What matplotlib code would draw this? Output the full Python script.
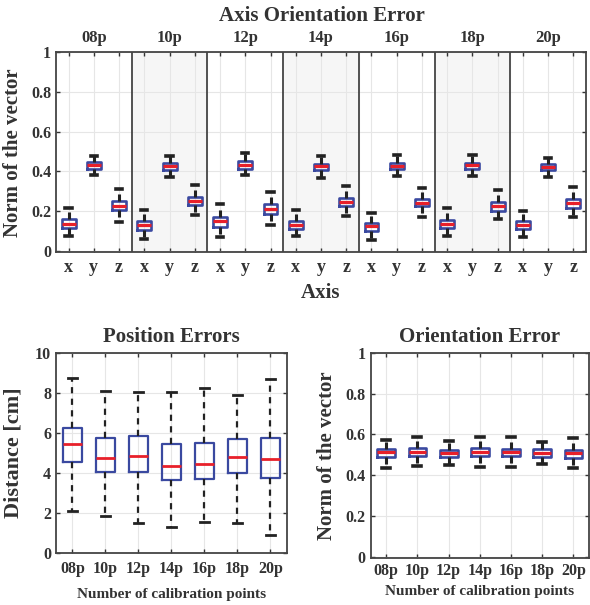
import matplotlib
matplotlib.use('Agg')
import matplotlib.pyplot as plt

plt.rcParams['font.family'] = ['Liberation Serif', 'DejaVu Serif']
plt.rcParams['font.weight'] = 'bold'

calib = ['08p', '10p', '12p', '14p', '16p', '18p', '20p']
axis_names = ['x', 'y', 'z']

# Axis orientation error, order: 08p x, y, z, 10p x, y, z, ...
ax_whishi = [0.217, 0.479, 0.311, 0.204, 0.478, 0.331, 0.237, 0.490, 0.296, 0.204, 0.478,
             0.326, 0.192, 0.484, 0.315, 0.214, 0.481, 0.305, 0.200, 0.466, 0.323]
ax_q3 = [0.158, 0.446, 0.251, 0.150, 0.441, 0.273, 0.170, 0.451, 0.234, 0.150, 0.437,
         0.266, 0.142, 0.442, 0.262, 0.155, 0.442, 0.246, 0.150, 0.437, 0.262]
ax_med = [0.137, 0.431, 0.227, 0.127, 0.426, 0.249, 0.148, 0.434, 0.211, 0.128, 0.426,
          0.246, 0.122, 0.428, 0.242, 0.133, 0.431, 0.224, 0.130, 0.422, 0.241]
ax_q1 = [0.113, 0.414, 0.204, 0.105, 0.406, 0.231, 0.120, 0.414, 0.185, 0.110, 0.407,
         0.226, 0.101, 0.414, 0.225, 0.113, 0.414, 0.202, 0.110, 0.407, 0.217]
ax_whislo = [0.073, 0.380, 0.143, 0.061, 0.370, 0.179, 0.071, 0.380, 0.127, 0.073, 0.365,
             0.174, 0.054, 0.378, 0.172, 0.073, 0.378, 0.158, 0.071, 0.372, 0.168]

# Position errors [cm]
pos_whishi = [8.78, 8.10, 8.05, 8.05, 8.28, 7.91, 8.73]
pos_q3 = [6.28, 5.78, 5.86, 5.44, 5.53, 5.69, 5.78]
pos_med = [5.48, 4.77, 4.87, 4.37, 4.44, 4.81, 4.72]
pos_q1 = [4.57, 4.07, 4.07, 3.64, 3.69, 3.99, 3.77]
pos_whislo = [2.12, 1.87, 1.52, 1.29, 1.55, 1.52, 0.88]

# Orientation error (norm)
ori_whishi = [0.574, 0.585, 0.569, 0.585, 0.585, 0.563, 0.580]
ori_q3 = [0.528, 0.535, 0.525, 0.532, 0.530, 0.527, 0.525]
ori_med = [0.512, 0.514, 0.506, 0.512, 0.512, 0.506, 0.506]
ori_q1 = [0.488, 0.496, 0.488, 0.493, 0.493, 0.488, 0.486]
ori_whislo = [0.436, 0.447, 0.450, 0.439, 0.439, 0.452, 0.437]

BLUE = '#3a49a0'
RED = '#e8202a'
TXT = '#333333'


def make_stats(lo, q1, med, q3, hi):
    return [dict(whislo=a, q1=b, med=c, q3=d, whishi=e, fliers=[])
            for a, b, c, d, e in zip(lo, q1, med, q3, hi)]


def draw_box(ax, stats, width, box_lw, whisk_lw, dash):
    ax.bxp(stats, positions=range(1, len(stats) + 1), widths=width, showfliers=False,
           boxprops=dict(color=BLUE, linewidth=box_lw),
           medianprops=dict(color=RED, linewidth=box_lw + 0.4),
           whiskerprops=dict(color='#222222', linewidth=whisk_lw, linestyle=dash),
           capprops=dict(color='#222222', linewidth=whisk_lw + 0.4),
           capwidths=width * 0.45, manage_ticks=False)


def style(ax):
    ax.tick_params(direction='in', top=True, right=True, colors=TXT, labelsize=11.5,
                   width=1, length=3)
    for s in ax.spines.values():
        s.set_color('#444444')
        s.set_linewidth(1.3)
    ax.grid(True, color='#e6e6e6', linewidth=0.8)
    ax.set_axisbelow(True)
    for lab in ax.get_xticklabels() + ax.get_yticklabels():
        lab.set_fontweight('bold')


fig = plt.figure(figsize=(5.9, 6.05), dpi=100)

# top: axis orientation error
ax1 = fig.add_axes([0.0949, 0.583, 0.8983, 0.3306])
for g in range(len(calib)):
    if g % 2 == 1:
        ax1.axvspan(g * 3 + 0.5, g * 3 + 3.5, color='#f6f6f6', zorder=0)
    if g > 0:
        ax1.axvline(g * 3 + 0.5, color='#444444', linewidth=1.3, zorder=1)
    ax1.text(g * 3 + 2, 1.03, calib[g], ha='center', va='bottom', fontsize=12,
             fontweight='bold', color=TXT, transform=ax1.transData, clip_on=False)
draw_box(ax1, make_stats(ax_whislo, ax_q1, ax_med, ax_q3, ax_whishi), 0.55, 1.9, 2.2,
         (0, (2.3, 1.8)))
ax1.set_xlim(0.5, 21.5)
ax1.set_ylim(-0.008, 1)
ax1.set_xticks(range(1, 22))
ax1.set_xticklabels(axis_names * len(calib))
ax1.set_yticks([0, 0.2, 0.4, 0.6, 0.8, 1])
ax1.set_yticklabels(['0', '0.2', '0.4', '0.6', '0.8', '1'])
style(ax1)
ax1.tick_params(axis='x', labelsize=13, pad=5)
ax1.set_ylabel('Norm of the vector', fontsize=15, fontweight='bold', color=TXT, labelpad=6)
ax1.set_xlabel('Axis', fontsize=15, fontweight='bold', color=TXT, labelpad=5)
fig.text(0.546, 0.974, 'Axis Orientation Error', ha='center', va='center', fontsize=15,
         fontweight='bold', color=TXT)

# bottom left: position errors
ax2 = fig.add_axes([0.0949, 0.086, 0.3915, 0.330])
draw_box(ax2, make_stats(pos_whislo, pos_q1, pos_med, pos_q3, pos_whishi), 0.55, 1.6, 1.6,
         (0, (2.8, 2.4)))
ax2.set_xlim(0.5, 7.5)
ax2.set_ylim(0, 10)
ax2.set_xticks(range(1, 8))
ax2.set_xticklabels(calib)
ax2.set_yticks([0, 2, 4, 6, 8, 10])
style(ax2)
ax2.tick_params(axis='x', pad=6)
ax2.set_ylabel('Distance [cm]', fontsize=16, fontweight='bold', color=TXT, labelpad=8)
ax2.set_xlabel('Number of calibration points', fontsize=11, fontweight='bold', color=TXT,
               labelpad=8)
ax2.set_title('Position Errors', fontsize=15, fontweight='bold', color=TXT, pad=8)

# bottom right: orientation error
ax3 = fig.add_axes([0.6283, 0.0782, 0.370, 0.3388])
draw_box(ax3, make_stats(ori_whislo, ori_q1, ori_med, ori_q3, ori_whishi), 0.57, 1.9, 2.2,
         (0, (2.3, 1.8)))
ax3.set_xlim(0.5, 7.5)
ax3.set_ylim(-0.005, 1)
ax3.set_xticks(range(1, 8))
ax3.set_xticklabels(calib)
ax3.set_yticks([0, 0.2, 0.4, 0.6, 0.8, 1])
ax3.set_yticklabels(['0', '0.2', '0.4', '0.6', '0.8', '1'])
style(ax3)
ax3.tick_params(axis='x', pad=4)
ax3.set_ylabel('Norm of the vector', fontsize=15, fontweight='bold', color=TXT, labelpad=6)
ax3.set_xlabel('Number of calibration points', fontsize=11, fontweight='bold', color=TXT,
               labelpad=4)
ax3.set_title('Orientation Error', fontsize=15, fontweight='bold', color=TXT, pad=8)

fig.savefig('out.png', dpi=100)
